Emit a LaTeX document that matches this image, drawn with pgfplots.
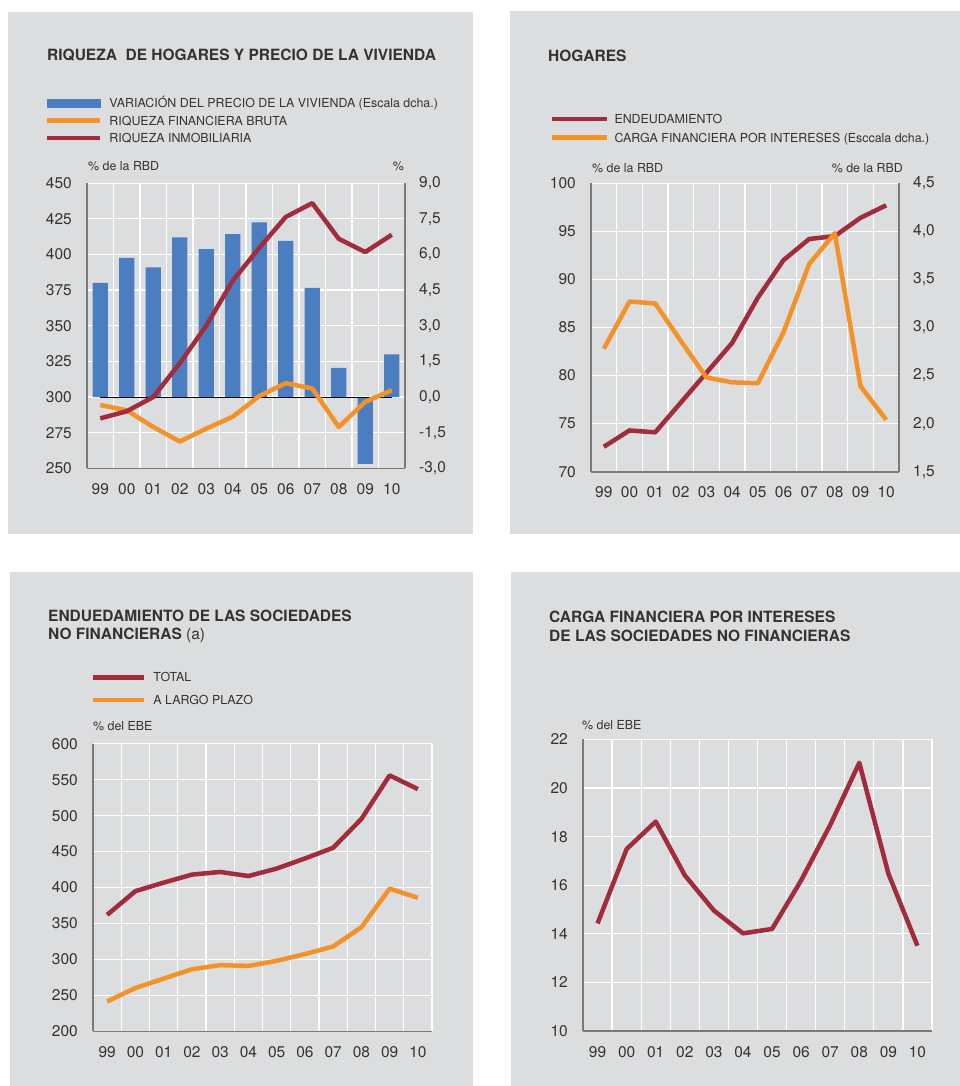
\documentclass[border=0pt]{standalone}
\usepackage{fontspec}
\setmainfont{TeX Gyre Heros}
\usepackage{pgfplots}
\pgfplotsset{compat=1.18}
\definecolor{panelbg}{HTML}{DCDDDF}
\definecolor{barblue}{HTML}{4A7EC0}
\definecolor{lorange}{HTML}{F29229}
\definecolor{lred}{HTML}{A02C3C}
\definecolor{axgrey}{HTML}{7A7A7A}
\definecolor{txt}{HTML}{333333}

\pgfplotsset{
  base/.style={
    scale only axis,
    xmin=-0.5, xmax=11.5,
    xtick={0,...,11},
    xticklabels={99,00,01,02,03,04,05,06,07,08,09,10},
    minor xtick={-0.5,0.5,...,11.5},
    tick style={draw=none},
    major tick length=0pt, minor tick length=0pt,
    axis line style={-, draw=axgrey, line width=1.5pt},
    ticklabel style={font=\fontsize{15.5}{18}\selectfont, text=txt, inner sep=0pt},
    xticklabel style={anchor=center, yshift=-20.7pt},
    /pgf/number format/assume math mode=true,
    major grid style={white, line width=1.3pt},
    minor grid style={white, line width=1.3pt},
    legend image code/.code={\draw[#1] (0pt,0pt) -- (53pt,0pt);},
    legend cell align=left,
  },
  lin/.style={line width=4.5pt, line join=round},
  leg/.style={legend style={draw=none, fill=none, anchor=north west, inner sep=0pt, outer sep=0pt,
      font=\fontsize{12.4}{14}\selectfont, text=txt,
      nodes={inner sep=0pt, text height=8.8pt, text depth=0pt}}},
}

\begin{document}
\begin{tikzpicture}
\useasboundingbox (0,0) rectangle (960pt,1086pt);
\fill[white] (0,0) rectangle (960pt,1086pt);
\fill[panelbg] (8pt,552pt) rectangle (473pt,1074pt);
\fill[panelbg] (510pt,552pt) rectangle (960pt,1075pt);
\fill[panelbg] (10pt,0pt) rectangle (473pt,514pt);
\fill[panelbg] (511pt,0pt) rectangle (960pt,514pt);

% titles
\begin{scope}[every node/.style={anchor=base west, inner sep=0pt, text=txt}]
\node[font=\bfseries\fontsize{15.5}{18}\selectfont] at (47pt,1025.7pt) {RIQUEZA\ \ DE HOGARES Y PRECIO DE LA VIVIENDA};
\node[font=\bfseries\fontsize{15.5}{18}\selectfont] at (548pt,1024.7pt) {HOGARES};
\node[font=\bfseries\fontsize{15.5}{18}\selectfont] at (48pt,464.6pt) {ENDUEDAMIENTO DE LAS SOCIEDADES};
\node[font=\bfseries\fontsize{15.5}{18}\selectfont] at (48pt,446.2pt) {NO FINANCIERAS {\mdseries (a)}};
\node[font=\bfseries\fontsize{15.5}{18}\selectfont] at (549pt,463pt) {CARGA FINANCIERA POR INTERESES};
\node[font=\bfseries\fontsize{15.5}{18}\selectfont] at (549pt,444.5pt) {DE LAS SOCIEDADES NO FINANCIERAS};
% units
\node[font=\fontsize{12.4}{14}\selectfont] at (88pt,915.5pt) {\% de la RBD};
\node[font=\fontsize{12.4}{14}\selectfont, anchor=base east] at (404pt,915.5pt) {\%};
\node[font=\fontsize{12.4}{14}\selectfont] at (592pt,913.8pt) {\% de la RBD};
\node[font=\fontsize{12.4}{14}\selectfont, anchor=base east] at (903pt,913.8pt) {\% de la RBD};
\node[font=\fontsize{12.4}{14}\selectfont] at (93pt,355pt) {\% del EBE};
\node[font=\fontsize{12.4}{14}\selectfont] at (582pt,356pt) {\% del EBE};
\end{scope}

% ---------- Panel 1 ----------
\begin{axis}[base, at={(87pt,617.7pt)}, anchor=south west, width=318pt, height=285.1pt,
  axis x line*=bottom, axis y line*=right,
  ymin=-3, ymax=9, ytick={-3,-1.5,0,1.5,3,4.5,6,7.5,9},
  yticklabels={{-3,0},{-1,5},{0,0},{1,5},{3,0},{4,5},{6,0},{7,5},{9,0}},
  yticklabel style={anchor=west, xshift=14pt},
  ymajorgrids, xminorgrids]
\addplot[ybar, bar width=0.58, fill=barblue, draw=none] coordinates {
(0,4.80) (1,5.86) (2,5.46) (3,6.72) (4,6.22) (5,6.86) (6,7.35) (7,6.57) (8,4.59) (9,1.23) (10,-2.81) (11,1.80)};
\addplot[black, line width=1pt] coordinates {(0,0) (11,0)};
\end{axis}
\begin{axis}[base, leg, at={(87pt,617.7pt)}, anchor=south west, width=318pt, height=285.1pt,
  axis x line*=bottom, axis y line*=left, xticklabels={},
  ymin=250, ymax=450, ytick={250,275,...,450},
  yticklabel style={anchor=east, xshift=-15pt},
  legend style={at={(-0.1321,1.2957)}, row sep=8.6pt, column sep=7pt}]
\addlegendimage{legend image code/.code={\fill[barblue] (0pt,-3.7pt) rectangle (53pt,3.7pt);}}
\addlegendentry{VARIACIÓN DEL PRECIO DE LA VIVIENDA (Escala dcha.)}
\addplot[lorange, lin] coordinates {
(0,294.4) (1,290.6) (2,279) (3,268.8) (4,277.8) (5,286.2) (6,300.7) (7,309.7) (8,306) (9,279) (10,296.6) (11,304.8)};
\addlegendentry{RIQUEZA FINANCIERA BRUTA}
\addplot[lred, lin] coordinates {
(0,285) (1,290) (2,300) (3,323.7) (4,350) (5,381.6) (6,404.6) (7,426.3) (8,436) (9,411) (10,401.7) (11,413.8)};
\addlegendentry{RIQUEZA INMOBILIARIA}
\end{axis}

% ---------- Panel 2 ----------
\begin{axis}[base, at={(591pt,614.2pt)}, anchor=south west, width=308pt, height=288.6pt,
  axis x line*=bottom, axis y line*=left,
  ymin=70, ymax=100, ytick={70,75,...,100},
  yticklabel style={anchor=east, xshift=-15pt},
  ymajorgrids, xminorgrids]
\addplot[lred, lin] coordinates {
(0,72.6) (1,74.3) (2,74.1) (3,77.2) (4,80.3) (5,83.4) (6,88.1) (7,92.0) (8,94.2) (9,94.5) (10,96.4) (11,97.7)};
\end{axis}
\begin{axis}[base, leg, at={(591pt,614.2pt)}, anchor=south west, width=308pt, height=288.6pt,
  axis x line*=bottom, axis y line*=right, xticklabels={},
  ymin=1.5, ymax=4.5, ytick={1.5,2,2.5,3,3.5,4,4.5},
  yticklabels={{1,5},{2,0},{2,5},{3,0},{3,5},{4,0},{4,5}},
  yticklabel style={anchor=west, xshift=14pt},
  legend image code/.code={\draw[#1] (0pt,0pt) -- (55pt,0pt);},
  legend style={at={(-0.1331,1.2384)}, row sep=10.1pt, column sep=5pt}]
\addlegendimage{lred, lin}
\addlegendentry{ENDEUDAMIENTO}
\addplot[lorange, lin] coordinates {
(0,2.78) (1,3.27) (2,3.25) (3,2.86) (4,2.48) (5,2.43) (6,2.42) (7,2.95) (8,3.66) (9,3.98) (10,2.39) (11,2.04)};
\addlegendentry{CARGA FINANCIERA POR INTERESES (Esccala dcha.)}
\end{axis}

% ---------- Panel 3 ----------
\begin{axis}[base, leg, at={(93pt,54.7pt)}, anchor=south west, width=339pt, height=287.5pt,
  axis x line*=bottom, axis y line*=left,
  ymin=200, ymax=600, ytick={200,250,...,600},
  yticklabel style={anchor=east, xshift=-15pt},
  xticklabel style={yshift=-0.4pt},
  ymajorgrids, xminorgrids,
  legend image code/.code={\draw[#1] (0pt,0pt) -- (51pt,0pt);},
  legend style={at={(-0.0059,1.2463)}, row sep=13.7pt, column sep=7pt}]
\addplot[lred, lin] coordinates {
(0,362) (1,395) (2,406.8) (3,418) (4,421.7) (5,416) (6,426.4) (7,440.4) (8,455.3) (9,495.4) (10,556) (11,537)};
\addlegendentry{TOTAL}
\addplot[lorange, lin] coordinates {
(0,241.5) (1,260.2) (2,273.3) (3,286.3) (4,292) (5,291) (6,298) (7,307.4) (8,318) (9,344.7) (10,398.4) (11,385.8)};
\addlegendentry{A LARGO PLAZO}
\end{axis}

% ---------- Panel 4 ----------
\begin{axis}[base, at={(583pt,55pt)}, anchor=south west, width=349pt, height=291.5pt,
  axis x line*=bottom, axis y line*=left,
  ymin=10, ymax=22, ytick={10,12,...,22},
  yticklabel style={anchor=east, xshift=-15pt},
  ymajorgrids, xminorgrids]
\addplot[lred, lin] coordinates {
(0,14.43) (1,17.49) (2,18.62) (3,16.41) (4,14.96) (5,14.02) (6,14.2) (7,16.2) (8,18.48) (9,21.04) (10,16.48) (11,13.51)};
\end{axis}
\end{tikzpicture}
\end{document}
